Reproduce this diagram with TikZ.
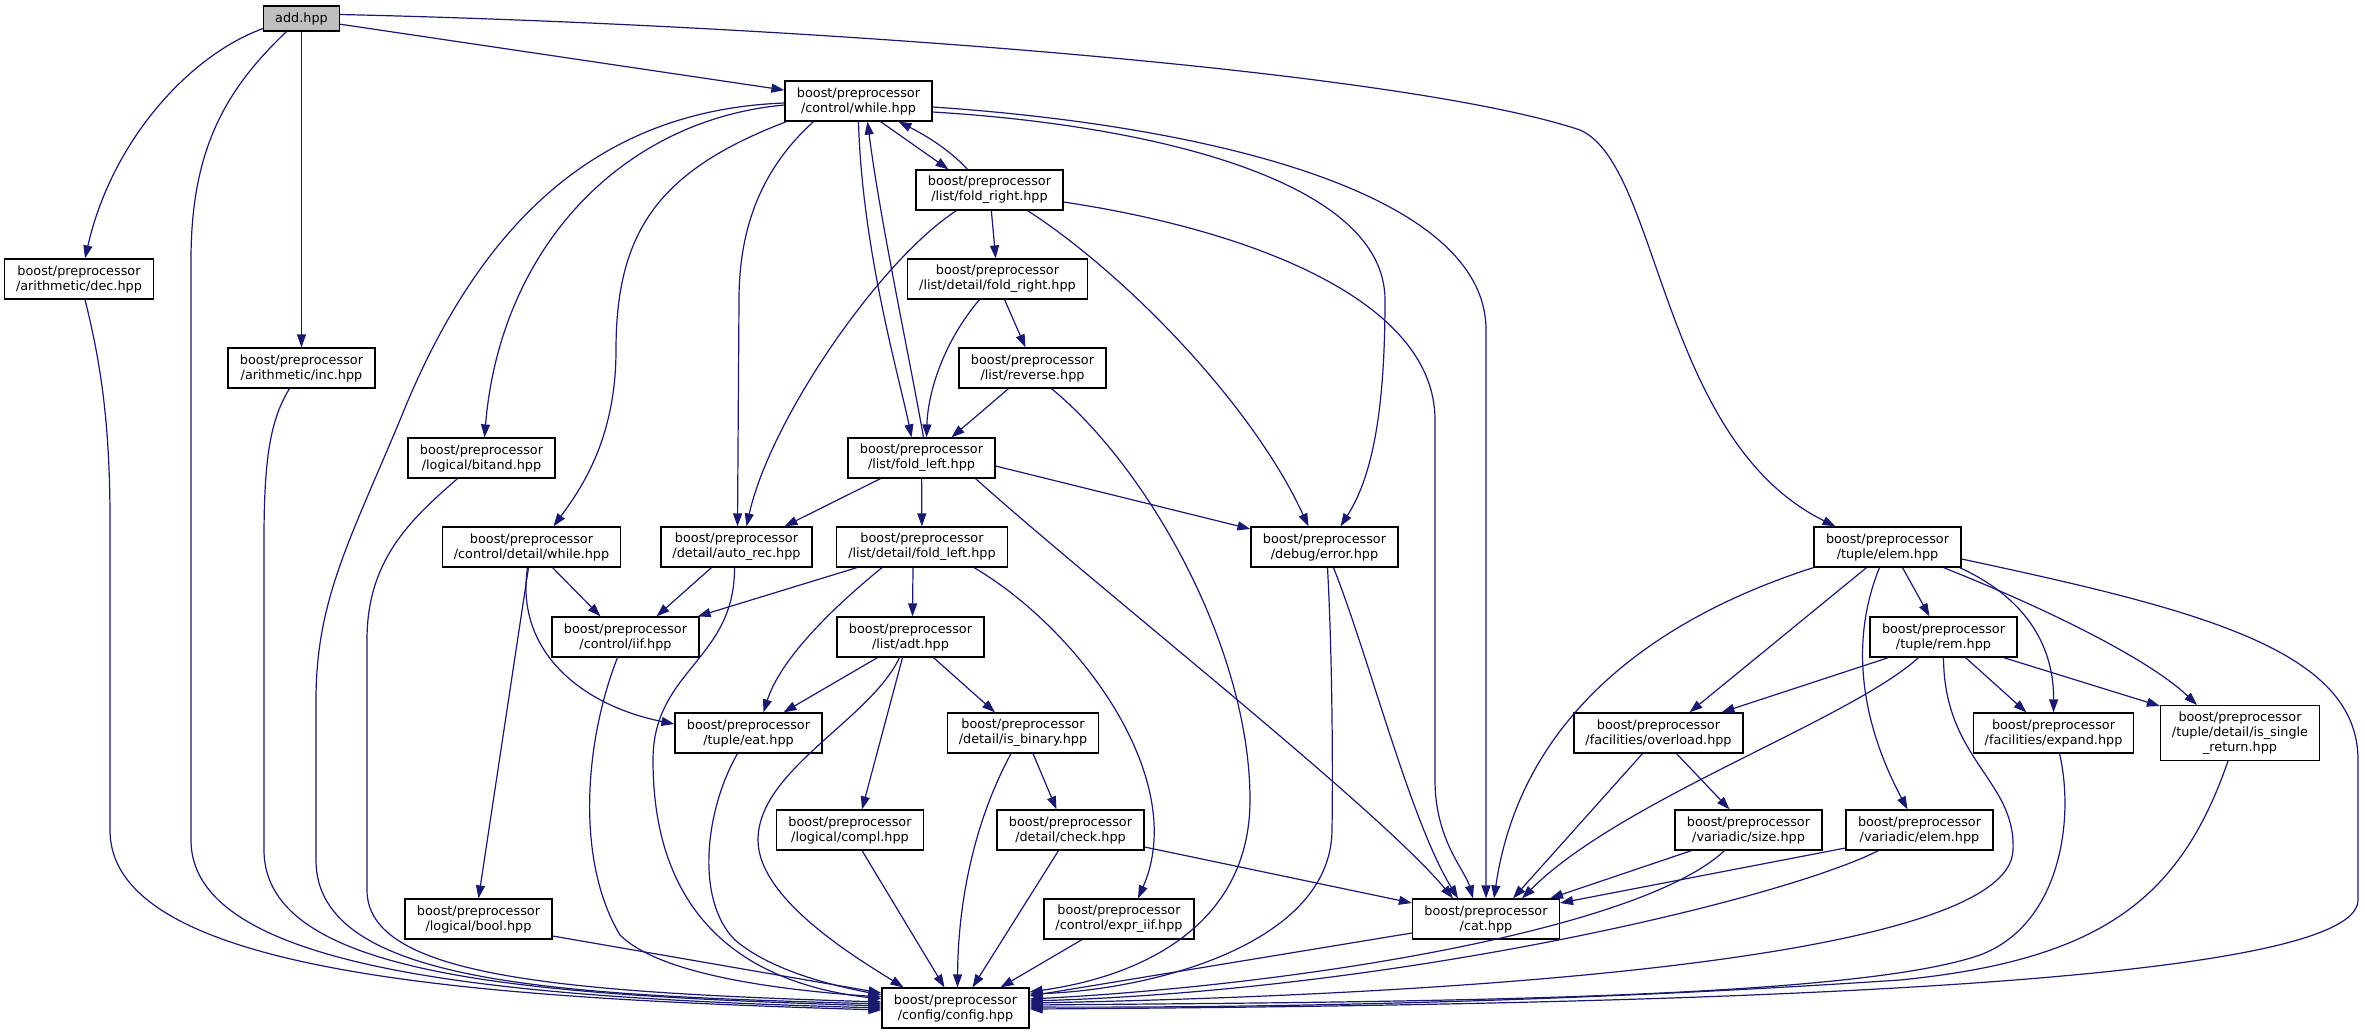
\documentclass[tikz,border=0pt]{standalone}
\usepackage{fontspec}
\setmainfont{DejaVu Sans}
\usetikzlibrary{arrows.meta}
\definecolor{edgeblue}{HTML}{191970}
\definecolor{rootgray}{HTML}{BFBFBF}
\begin{document}
\begin{tikzpicture}[x=1pt,y=-1pt,
    file/.style={shape=rectangle,draw=black,line width=1.2pt,fill=white,align=center,
      font=\fontsize{12.8pt}{15pt}\selectfont,inner xsep=11.5pt,inner ysep=6pt,
      minimum width=147pt,minimum height=40pt},
    root/.style={file,fill=rootgray,minimum width=0pt,minimum height=25pt},
    dep/.style={-{Triangle[length=13pt,width=9pt]},color=edgeblue,line width=1.2pt}]
\useasboundingbox (0,0) rectangle (2365,1035);
%%%% Add nodes for each header
    \node[root] (add) at (301.5,18.5) {add.hpp};
    \node[file] (while) at (858.5,101) {boost/preprocessor\\/control/while.hpp};
    \node[file] (lfr) at (989.5,190) {boost/preprocessor\\/list/fold\_right.hpp};
    \node[file] (dec) at (79,279) {boost/preprocessor\\/arithmetic/dec.hpp};
    \node[file] (dfr) at (997.5,279) {boost/preprocessor\\/list/detail/fold\_right.hpp};
    \node[file] (inc) at (301.5,368) {boost/preprocessor\\/arithmetic/inc.hpp};
    \node[file] (rev) at (1032.5,368) {boost/preprocessor\\/list/reverse.hpp};
    \node[file] (bitand) at (481.5,458) {boost/preprocessor\\/logical/bitand.hpp};
    \node[file] (lfl) at (921.5,458) {boost/preprocessor\\/list/fold\_left.hpp};
    \node[file] (cdw) at (531.5,547) {boost/preprocessor\\/control/detail/while.hpp};
    \node[file] (autorec) at (736.5,547) {boost/preprocessor\\/detail/auto\_rec.hpp};
    \node[file] (dfl) at (922,547) {boost/preprocessor\\/list/detail/fold\_left.hpp};
    \node[file] (error) at (1324.5,547) {boost/preprocessor\\/debug/error.hpp};
    \node[file] (telem) at (1887.5,547) {boost/preprocessor\\/tuple/elem.hpp};
    \node[file] (iif) at (625.5,637) {boost/preprocessor\\/control/iif.hpp};
    \node[file] (adt) at (910.5,637) {boost/preprocessor\\/list/adt.hpp};
    \node[file] (rem) at (1943.5,637) {boost/preprocessor\\/tuple/rem.hpp};
    \node[file] (eat) at (748.5,733) {boost/preprocessor\\/tuple/eat.hpp};
    \node[file] (isbin) at (1023,733) {boost/preprocessor\\/detail/is\_binary.hpp};
    \node[file] (overload) at (1658.5,733) {boost/preprocessor\\/facilities/overload.hpp};
    \node[file] (expand) at (2053.5,733) {boost/preprocessor\\/facilities/expand.hpp};
    \node[file] (issingle) at (2240,733) {boost/preprocessor\\/tuple/detail/is\_single\\\_return.hpp};
    \node[file] (compl) at (850,830) {boost/preprocessor\\/logical/compl.hpp};
    \node[file] (check) at (1070.5,830) {boost/preprocessor\\/detail/check.hpp};
    \node[file] (size) at (1748.5,830) {boost/preprocessor\\/variadic/size.hpp};
    \node[file] (velem) at (1919.5,830) {boost/preprocessor\\/variadic/elem.hpp};
    \node[file] (bool) at (478.5,919) {boost/preprocessor\\/logical/bool.hpp};
    \node[file] (expriif) at (1119,919) {boost/preprocessor\\/control/expr\_iif.hpp};
    \node[file] (cat) at (1486,919) {boost/preprocessor\\/cat.hpp};
    \node[file] (config) at (955.5,1008) {boost/preprocessor\\/config/config.hpp};
%%%% Add edges from add.hpp
    \draw[dep] ([yshift=-10pt]add.west) .. controls (190,55) and (112,140) .. ([xshift=6pt]dec.north);
    \draw[dep] ([xshift=-15pt]add.south) .. controls (225,90) and (191,150) .. (191,260) -- (191,840) .. controls (191,975) and (520,998) .. (config.west);
    \draw[dep] (add) -- (inc);
    \draw[dep] (add) -- (while);
    \draw[dep] ([yshift=4pt]add.east) .. controls (800,25) and (1400,70) .. (1580,130) .. controls (1660,165) and (1660,440) .. ([xshift=-52pt]telem.north);
%%%% Add edges from control/while.hpp
    \draw[dep] ([xshift=22pt]while.south) -- ([xshift=-41pt]lfr.north);
    \draw[dep] (while.south) .. controls (862,250) and (900,380) .. ([xshift=-10pt]lfl.north);
    \draw[dep] ([yshift=-11pt]while.east) .. controls (1150,125) and (1385,180) .. (1385,300) .. controls (1385,420) and (1370,480) .. ([xshift=16pt]error.north);
    \draw[dep] ([yshift=-6pt]while.east) .. controls (1200,125) and (1486,190) .. (1486,330) -- (cat.north);
    \draw[dep] ([yshift=-2pt]while.west) .. controls (600,110) and (480,220) .. (400,420) .. controls (350,540) and (316,600) .. (316,700) -- (316,860) .. controls (316,985) and (560,995) .. ([yshift=4pt]config.west);
    \draw[dep] ([yshift=-4pt]while.west) .. controls (620,120) and (500,250) .. ([xshift=3pt]bitand.north);
    \draw[dep] ([xshift=-72pt]while.south) .. controls (660,170) and (616,230) .. (616,350) .. controls (616,440) and (580,490) .. ([xshift=22pt]cdw.north);
    \draw[dep] ([xshift=-45pt]while.south) .. controls (760,170) and (739,230) .. (739,300) -- ([xshift=1pt]autorec.north);
%%%% Add edges from list/fold_right.hpp
    \draw[dep] ([xshift=-22pt]lfr.north) .. controls (950,150) and (925,135) .. ([xshift=40pt]while.south);
    \draw[dep] (lfr) -- (dfr);
    \draw[dep] ([xshift=-33pt]lfr.south) .. controls (880,260) and (770,420) .. ([xshift=10pt]autorec.north);
    \draw[dep] ([xshift=38pt]lfr.south) .. controls (1120,270) and (1250,400) .. ([xshift=-16pt]error.north);
    \draw[dep] ([yshift=-12pt]lfr.east) .. controls (1250,230) and (1435,300) .. (1435,420) -- (1435,780) .. controls (1435,840) and (1465,870) .. ([xshift=-13pt]cat.north);
%%%% Add edges from list/detail/fold_right.hpp and list/reverse.hpp
    \draw[dep] ([xshift=-18pt]dfr.south) .. controls (945,340) and (928,390) .. ([xshift=5pt]lfl.north);
    \draw[dep] ([xshift=7pt]dfr.south) -- ([xshift=-7pt]rev.north);
    \draw[dep] ([xshift=-24pt]rev.south) -- ([xshift=30pt]lfl.north);
    \draw[dep] ([xshift=19pt]rev.south) .. controls (1150,470) and (1250,650) .. (1250,800) .. controls (1250,920) and (1150,975) .. ([yshift=16pt]config.east);
%%%% Add edges from list/fold_left.hpp
    \draw[dep] ([xshift=2pt]lfl.north) .. controls (910,360) and (880,220) .. ([xshift=9pt]while.south);
    \draw[dep] ([xshift=-41pt]lfl.south) -- ([xshift=48pt]autorec.north);
    \draw[dep] (lfl) -- (dfl);
    \draw[dep] ([yshift=-8pt]lfl.east) -- ([yshift=18pt]error.west);
    \draw[dep] ([xshift=54pt]lfl.south) .. controls (1100,590) and (1380,810) .. ([xshift=-33pt]cat.north);
%%%% Add edges from the left column
    \draw[dep] ([xshift=6pt]dec.south) .. controls (100,360) and (110,420) .. (110,520) -- (110,830) .. controls (110,975) and (480,998) .. ([yshift=-2pt]config.west);
    \draw[dep] ([xshift=-12pt]inc.south) .. controls (270,420) and (264,460) .. (264,540) -- (264,850) .. controls (264,980) and (540,995) .. ([yshift=2pt]config.west);
    \draw[dep] ([xshift=-24pt]bitand.south) .. controls (410,520) and (367,560) .. (367,640) -- (367,890) .. controls (367,975) and (550,992) .. ([yshift=6pt]config.west);
    \draw[dep] ([xshift=21pt]cdw.south) -- ([xshift=-25pt]iif.north);
    \draw[dep] ([xshift=-4pt]cdw.south) .. controls (515,650) and (580,705) .. ([yshift=9pt]eat.west);
    \draw[dep] ([xshift=-3pt]cdw.south) -- (bool.north);
    \draw[dep] ([xshift=-25pt]autorec.south) -- ([xshift=31pt]iif.north);
    \draw[dep] ([xshift=-2pt]autorec.south) .. controls (735,660) and (653,670) .. (653,760) .. controls (653,930) and (760,985) .. ([yshift=9pt]config.west);
%%%% Add edges from list/detail/fold_left.hpp
    \draw[dep] ([xshift=-65pt]dfl.south) -- ([xshift=-2pt]iif.north east);
    \draw[dep] ([xshift=-40pt]dfl.south) .. controls (830,610) and (780,660) .. ([xshift=15pt]eat.north);
    \draw[dep] ([xshift=-9pt]dfl.south) -- ([xshift=2pt]adt.north);
    \draw[dep] ([xshift=52pt]dfl.south) .. controls (1080,630) and (1190,780) .. ([xshift=19pt]expriif.north);
%%%% Add edges from debug/error.hpp
    \draw[dep] ([xshift=3pt]error.south) .. controls (1332,650) and (1333,760) .. (1332,830) .. controls (1331,945) and (1150,990) .. ([yshift=14pt]config.east);
    \draw[dep] ([xshift=9pt]error.south) .. controls (1370,660) and (1410,820) .. ([xshift=-28pt]cat.north);
%%%% Add edges from tuple/elem.hpp
    \draw[dep] (telem.south west) .. controls (1650,620) and (1520,720) .. ([xshift=8pt]cat.north);
    \draw[dep] ([xshift=-21pt]telem.south) -- ([xshift=31pt]overload.north);
    \draw[dep] ([xshift=15pt]telem.south) -- ([xshift=-14pt]rem.north);
    \draw[dep] ([xshift=-8pt]telem.south) .. controls (1850,640) and (1860,720) .. ([xshift=-12pt]velem.north);
    \draw[dep] ([xshift=-2pt]telem.south east) .. controls (2030,600) and (2054,650) .. (expand.north);
    \draw[dep] ([xshift=56pt]telem.south) .. controls (2050,610) and (2150,660) .. ([xshift=-43pt]issingle.north);
    \draw[dep] ([yshift=-12pt]telem.east) .. controls (2200,610) and (2358,650) .. (2358,760) -- (2358,900) .. controls (2358,985) and (1700,1005) .. ([yshift=-1pt]config.east);
%%%% Add edges from tuple/rem.hpp
    \draw[dep] ([xshift=-55pt]rem.south) -- ([xshift=63pt]overload.north);
    \draw[dep] ([xshift=-25pt]rem.south) .. controls (1850,720) and (1620,800) .. ([xshift=36pt]cat.north);
    \draw[dep] ([xshift=22pt]rem.south) -- ([xshift=-27pt]expand.north);
    \draw[dep] ([xshift=60pt]rem.south) -- ([yshift=-1pt]issingle.north west);
    \draw[dep] (rem.south) .. controls (1944,760) and (2016,780) .. (2013,850) .. controls (2010,960) and (1450,995) .. ([yshift=5pt]config.east);
%%%% Add edges from the facilities and variadic headers
    \draw[dep] ([xshift=-16pt]overload.south) -- ([xshift=27pt]cat.north);
    \draw[dep] ([xshift=18pt]overload.south) -- ([xshift=-19pt]size.north);
    \draw[dep] ([xshift=-57pt]size.south) -- ([xshift=64pt]cat.north);
    \draw[dep] ([xshift=-24pt]size.south) .. controls (1640,930) and (1300,985) .. ([yshift=9pt]config.east);
    \draw[dep] ([yshift=-18pt]velem.west) -- ([yshift=16pt]cat.east);
    \draw[dep] ([xshift=-41pt]velem.south) .. controls (1780,900) and (1400,990) .. ([yshift=7pt]config.east);
    \draw[dep] ([xshift=6pt]expand.south) .. controls (2075,820) and (2060,925) .. (1980,955) .. controls (1850,1000) and (1400,1002) .. ([yshift=3pt]config.east);
    \draw[dep] ([xshift=-12pt]issingle.south) .. controls (2180,900) and (2100,960) .. (1900,980) .. controls (1600,1000) and (1300,1008) .. ([yshift=1pt]config.east);
%%%% Add edges from list/adt.hpp
    \draw[dep] ([xshift=-33pt]adt.south) -- ([xshift=35pt]eat.north);
    \draw[dep] ([xshift=-8pt]adt.south) -- ([xshift=12pt]compl.north);
    \draw[dep] ([xshift=23pt]adt.south) -- ([xshift=-28pt]isbin.north);
    \draw[dep] ([xshift=-11pt]adt.south) .. controls (870,720) and (758,770) .. (758,840) .. controls (758,900) and (860,960) .. ([xshift=-52pt]config.north);
%%%% Add edges into config/config.hpp from the lower rows
    \draw[dep] ([xshift=-11pt]eat.south) .. controls (705,810) and (695,900) .. (735,940) .. controls (770,970) and (830,985) .. ([yshift=13pt]config.west);
    \draw[dep] ([xshift=-8pt]iif.south) .. controls (585,740) and (575,860) .. (620,935) .. controls (660,975) and (780,990) .. ([yshift=11pt]config.west);
    \draw[dep] ([yshift=-17pt]bool.east) -- ([yshift=15pt]config.west);
    \draw[dep] ([xshift=12pt]compl.south) -- ([xshift=-11pt]config.north);
    \draw[dep] ([xshift=-12pt]isbin.south) .. controls (975,820) and (958,900) .. ([xshift=2pt]config.north);
    \draw[dep] ([xshift=10pt]isbin.south) -- ([xshift=-14pt]check.north);
    \draw[dep] ([xshift=-12pt]check.south) -- ([xshift=17pt]config.north);
    \draw[dep] ([yshift=-17pt]check.east) -- ([yshift=16pt]cat.west);
    \draw[dep] ([xshift=-37pt]expriif.south) -- ([xshift=45pt]config.north);
    \draw[dep] ([yshift=-14pt]cat.west) -- ([yshift=12pt]config.east);
\end{tikzpicture}
\end{document}
